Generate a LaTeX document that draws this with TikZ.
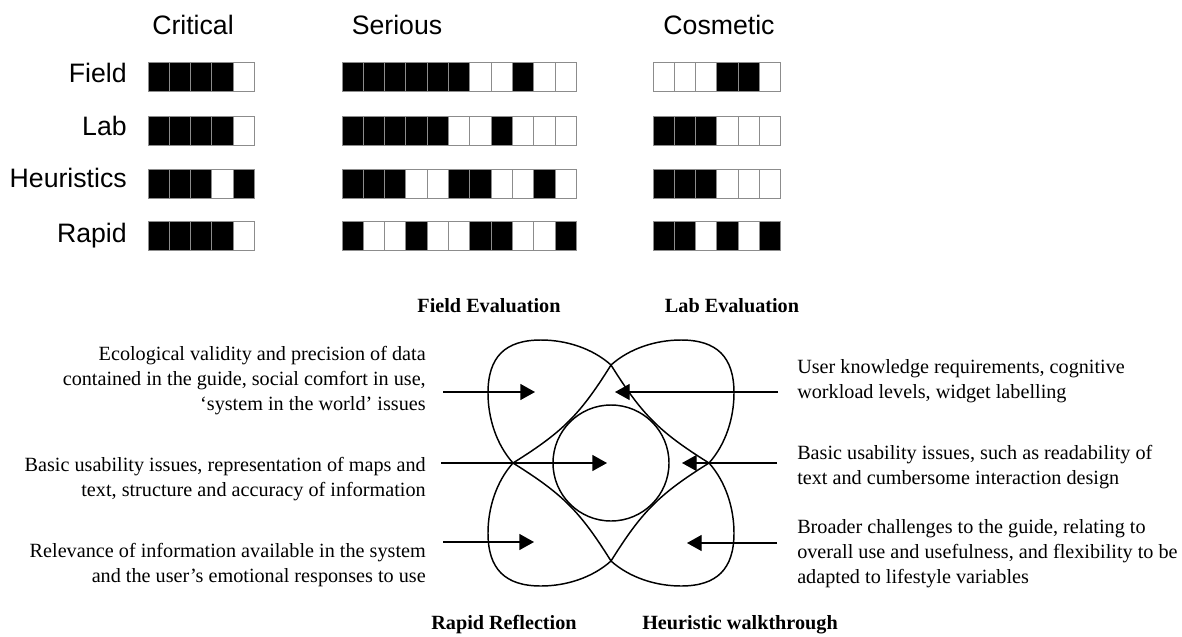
\documentclass[tikz,border=0pt]{standalone}
\usepackage{fontspec}
\setmainfont{Liberation Serif}
\newfontfamily\labelsans{Liberation Sans}
\usetikzlibrary{arrows.meta}
\definecolor{cellline}{HTML}{8C8C8C}
\colorlet{cellc0}{white}
\colorlet{cellc1}{black}

% one row of rating cells: left x, top y, list of 0/1 values (1 = filled)
\newcommand\ratingcells[3]{%
  \foreach \v [count=\k from 0] in {#3}{%
    \path[cell, fill=cellc\v] ({#1+\k*21.3},#2) rectangle ++(21.3,29);
  }%
}

\begin{document}
\begin{tikzpicture}[x=0.75pt,y=-0.75pt,
  cell/.style={draw=cellline, line width=0.7pt},
  sanstext/.style={font=\labelsans\fontsize{20}{24}\selectfont, inner sep=0pt},
  bodytext/.style={font=\fontsize{15.15}{18.4}\selectfont, inner sep=0pt},
  methodtitle/.style={font=\bfseries\fontsize{15.15}{18.4}\selectfont, inner sep=0pt},
  issue/.style={line width=1pt, -{Triangle[length=11pt,width=12pt]}},
  petal/.style={line width=1.1pt, line join=round},
]
\fill[white] (0,0) rectangle (1182,636);
\useasboundingbox (0,0) rectangle (1182,636);

% ---- severity table ----
\node[sanstext, anchor=base] (hcrit) at (193,34) {Critical};
\node[sanstext, anchor=base] (hser) at (397,34) {Serious};
\node[sanstext, anchor=base] (hcos) at (719,34) {Cosmetic};

\node[sanstext, anchor=base east] (rfield) at (127,82) {Field};
\node[sanstext, anchor=base east] (rlab) at (127,135) {Lab};
\node[sanstext, anchor=base east] (rheur) at (127,187) {Heuristics};
\node[sanstext, anchor=base east] (rrapid) at (127,242) {Rapid};

% critical
\ratingcells{148}{62}{1,1,1,1,0}
\ratingcells{148}{116}{1,1,1,1,0}
\ratingcells{148}{169}{1,1,1,0,1}
\ratingcells{148}{221}{1,1,1,1,0}
% serious
\ratingcells{342}{62}{1,1,1,1,1,1,0,0,1,0,0}
\ratingcells{342}{116}{1,1,1,1,1,0,0,1,0,0,0}
\ratingcells{342}{169}{1,1,1,0,0,1,1,0,0,1,0}
\ratingcells{342}{221}{1,0,0,1,0,0,1,1,0,0,1}
% cosmetic
\ratingcells{653}{62}{0,0,0,1,1,0}
\ratingcells{653}{116}{1,1,1,0,0,0}
\ratingcells{653}{169}{1,1,1,0,0,0}
\ratingcells{653}{221}{1,1,0,1,0,1}

% ---- evaluation methods diagram ----
\coordinate (core) at (611,463);

\node[methodtitle, anchor=base] (tfield) at (489,312) {Field Evaluation};
\node[methodtitle, anchor=base] (tlab) at (732,312) {Lab Evaluation};
\node[methodtitle, anchor=base] (trapid) at (504,629) {Rapid Reflection};
\node[methodtitle, anchor=base] (theur) at (740,629) {Heuristic walkthrough};

% four lobes around the shared centre: one lobe drawn, turned by quarter turns
\foreach \turn in {0,90,180,270}{
  \begin{scope}[shift={(core)}, rotate=\turn]
    \draw[petal] (-98,0)
      .. controls (-114.7,-18.6) and (-123,-45) .. (-123,-70)
      .. controls (-123,-106) and (-106,-123) .. (-70,-123)
      .. controls (-45,-123) and (-18.6,-114.7) .. (0,-98)
      .. controls (-31.2,-48.1) and (-48.1,-31.2) .. cycle;
  \end{scope}
}
\draw[petal] (core) circle[radius=58];

% issue descriptions (anchored at the baseline of their last line)
\node[bodytext, align=right, anchor=base east] (fieldnote) at (426,410)
  {Ecological validity and precision of data\\contained in the guide, social comfort in use,\\‘system in the world’ issues};
\node[bodytext, align=right, anchor=base east] (coreleft) at (426,496)
  {Basic usability issues, representation of maps and\\text, structure and accuracy of information};
\node[bodytext, align=right, anchor=base east] (rapidnote) at (426,582)
  {Relevance of information available in the system\\and the user’s emotional responses to use};

\node[bodytext, align=left, anchor=base west] (labnote) at (797,398)
  {User knowledge requirements, cognitive\\workload levels, widget labelling};
\node[bodytext, align=left, anchor=base west] (coreright) at (797,484)
  {Basic usability issues, such as readability of\\text and cumbersome interaction design};
\node[bodytext, align=left, anchor=base west] (heurnote) at (797,583)
  {Broader challenges to the guide, relating to\\overall use and usefulness, and flexibility to be\\adapted to lifestyle variables};

% arrows into the regions
\coordinate (a1s) at (443,392); \coordinate (a1e) at (535,392);
\coordinate (a2s) at (441,463); \coordinate (a2e) at (607,463);
\coordinate (a3s) at (443,542); \coordinate (a3e) at (534,542);
\coordinate (a4s) at (778,392); \coordinate (a4e) at (615,392);
\coordinate (a5s) at (777,463); \coordinate (a5e) at (682,463);
\coordinate (a6s) at (777,543); \coordinate (a6e) at (687,543);
\foreach \a in {1,...,6}{\draw[issue] (a\a s) -- (a\a e);}
\end{tikzpicture}
\end{document}
